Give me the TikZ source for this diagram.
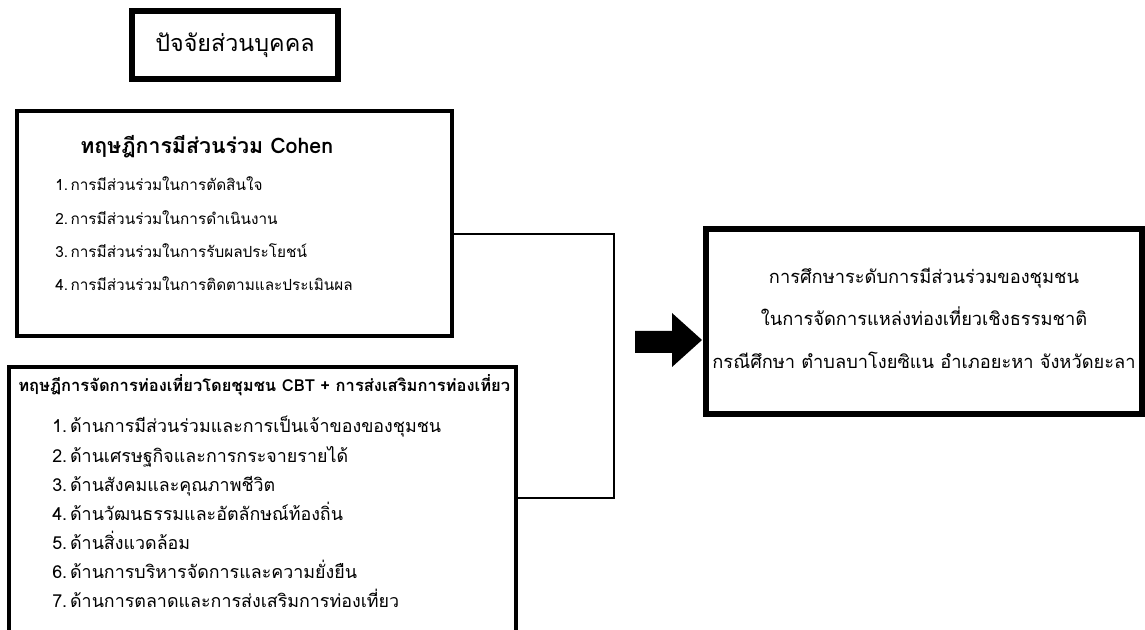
\documentclass[tikz,border=0pt]{standalone}
\usepackage{fontspec}
\setmainfont[Script=Thai]{Loma}
\usetikzlibrary{positioning,fit}

\begin{document}
\begin{tikzpicture}[x=0.75pt,y=-0.75pt,
mybox/.style={
  draw,
  line width=3pt,
  inner sep=0pt},
bigbox/.style={
  draw,
  line width=4.5pt,
  inner sep=0pt},
item/.style={
  anchor=base west,
  inner sep=0pt,
  font=\fontsize{11.5}{14}\selectfont},
bigitem/.style={
  item,
  font=\fontsize{13.4}{16}\selectfont},
study/.style={
  anchor=base,
  inner sep=0pt,
  font=\fontsize{13.7}{17}\selectfont}
]
\useasboundingbox (0,0) rectangle (1145,630);
\clip (0,0) rectangle (1145,630);
% title box
\node[bigbox, fit={(132,11) (338,79)}] (head) {};
\node[font=\fontsize{17.5}{20}\selectfont] (headtxt) at (head.center) {ปัจจัยส่วนบุคคล};
% Cohen box
\node[mybox, fit={(17,111) (452,336)}] (cohen) {};
\node[anchor=base west, inner sep=0pt, font=\bfseries\fontsize{16}{18}\selectfont]
  (cohenttl) at (80,154) {ทฤษฎีการมีส่วนร่วม Cohen};
\foreach \txt [count=\n] in {การมีส่วนร่วมในการตัดสินใจ,
  การมีส่วนร่วมในการดำเนินงาน,
  การมีส่วนร่วมในการรับผลประโยชน์,
  การมีส่วนร่วมในการติดตามและประเมินผล}
  \node[item] (c\n) at (55,{191+33.3*(\n-1)}) {\n.\,\txt};
% CBT box, runs past the bottom edge
\node[mybox, fit={(9,367) (516,660)}] (cbt) {};
\node[anchor=base west, inner sep=0pt, font=\bfseries\fontsize{12.4}{14}\selectfont]
  (cbtttl) at (18,392) {ทฤษฎีการจัดการท่องเที่ยวโดยชุมชน CBT + การส่งเสริมการท่องเที่ยว};
\foreach \txt [count=\n] in {ด้านการมีส่วนร่วมและการเป็นเจ้าของของชุมชน,
  ด้านเศรษฐกิจและการกระจายรายได้,
  ด้านสังคมและคุณภาพชีวิต,
  ด้านวัฒนธรรมและอัตลักษณ์ท้องถิ่น,
  ด้านสิ่งแวดล้อม,
  ด้านการบริหารจัดการและความยั่งยืน,
  ด้านการตลาดและการส่งเสริมการท่องเที่ยว}
  \node[bigitem] (t\n) at (52,{433+29*(\n-1)}) {\n.\,\txt};
% joining line
\coordinate (jtop) at (614,234);
\coordinate (jbot) at (614,498);
\draw[line width=1.5pt] (cohen.east |- jtop) -- (jtop) -- (jbot) -- (cbt.east |- jbot);
% block arrow
\fill (635,331) -- (672,331) -- (672,313) -- (702,340) -- (672,367) -- (672,353)
  -- (635,353) -- cycle;
% study box
\node[bigbox, fit={(706,229) (1142,414)}] (study) {};
\node[study] (s1) at (924,284) {การศึกษาระดับการมีส่วนร่วมของชุมชน};
\node[study] (s2) at (924,326) {ในการจัดการแหล่งท่องเที่ยวเชิงธรรมชาติ};
\node[study] (s3) at (924,369) {กรณีศึกษา ตำบลบาโงยซิแน อำเภอยะหา จังหวัดยะลา};
\end{tikzpicture}
\end{document}
